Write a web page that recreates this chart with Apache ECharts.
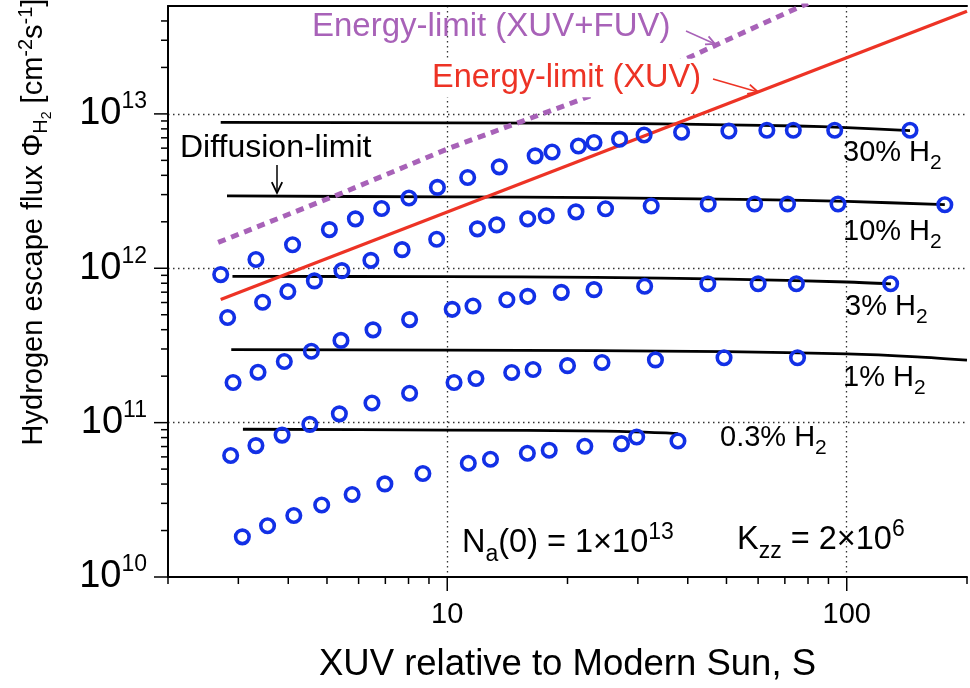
<!DOCTYPE html>
<html><head><meta charset="utf-8">
<script src="https://cdn.jsdelivr.net/npm/echarts@6/dist/echarts.min.js"></script>
<style>html,body{margin:0;padding:0;background:#fff}#c{width:970px;height:688px}</style>
</head><body><div id="c"></div>
<script>
// ---------------- data ----------------
const X_MIN = 2, X_MAX = 200;
const Y_MIN = 1e10, Y_MAX = 5e13;

// model results (blue circles)
const s30 = [2.71,3.32,4.10,5.07,5.89,6.85,8.02,9.45,11.25,13.5,16.6,18.3,21.3,23.3,27.0,31.1,38.6,50.7,63.1,73.5,93.3,144];
const f30 = [9.1e11,1.14e12,1.42e12,1.78e12,2.09e12,2.44e12,2.85e12,3.34e12,3.87e12,4.54e12,5.35e12,5.67e12,6.2e12,6.53e12,6.86e12,7.3e12,7.6e12,7.74e12,7.84e12,7.84e12,7.84e12,7.84e12];
const s10 = [2.82,3.45,3.99,4.65,5.45,6.44,7.71,9.41,11.9,13.3,15.9,17.7,21.0,24.9,32.4,45.0,58.8,71.1,95.1,176];
const f10 = [4.8e11,6.03e11,7.07e11,8.28e11,9.65e11,1.125e12,1.32e12,1.54e12,1.80e12,1.91e12,2.09e12,2.19e12,2.32e12,2.43e12,2.53e12,2.61e12,2.61e12,2.61e12,2.61e12,2.58e12];
const s3 = [2.91,3.36,3.91,4.57,5.42,6.52,8.05,10.29,11.6,14.1,15.9,19.3,23.3,31.2,44.9,60.0,74.8,128.8];
const f3 = [1.82e11,2.12e11,2.49e11,2.90e11,3.41e11,3.99e11,4.65e11,5.42e11,5.70e11,6.25e11,6.58e11,6.98e11,7.27e11,7.64e11,7.93e11,7.93e11,7.93e11,7.93e11];
const s1 = [2.87,3.32,3.86,4.53,5.37,6.48,8.05,10.4,11.8,14.5,16.4,20.0,24.4,33.2,49.3,75.3];
const f1 = [6.12e10,7.1e10,8.3e10,9.75e10,1.14e11,1.34e11,1.55e11,1.82e11,1.93e11,2.11e11,2.21e11,2.34e11,2.45e11,2.55e11,2.63e11,2.63e11];
const s03 = [3.07,3.55,4.13,4.85,5.78,6.98,8.69,11.29,12.83,15.87,18.0,22.1,27.3,29.8,37.8];
const f03 = [1.82e10,2.15e10,2.5e10,2.93e10,3.42e10,4.01e10,4.68e10,5.46e10,5.79e10,6.34e10,6.62e10,7.03e10,7.31e10,8.07e10,7.6e10];

// diffusion-limit curves (black)
const d30s = [2.71,10,30,50,75,100,144];
const d30f = [8.8e12,8.75e12,8.65e12,8.5e12,8.35e12,8.15e12,7.8e12];
const d10s = [2.81,10,23.5,60,100,176];
const d10f = [2.94e12,2.9e12,2.87e12,2.78e12,2.71e12,2.58e12];
const d3s = [2.9,10,23.5,50,100,129];
const d3f = [8.87e11,8.82e11,8.74e11,8.5e11,8.15e11,7.93e11];
const d1s = [2.88,10,23.5,50,100,150,200];
const d1f = [2.97e11,2.95e11,2.93e11,2.88e11,2.79e11,2.67e11,2.54e11];
const d03s = [3.08,10,25,37.8];
const d03f = [9.06e10,8.95e10,8.8e10,8.5e10];

// energy limits
const elxS = [2.71,200];
const elxF = [6.27e11,4.62e13];
const elfS = [2.67,5.45,10.2,20.2,37.9,71.5,80];
const elfF = [1.47e12,3.07e12,6.05e12,1.16e13,2.16e13,4.58e13,5.2e13];

// axis ticks
const xMajorTicks = [10,100];
const xMinorTicks = [2,3,4,5,6,7,8,9,20,30,40,50,60,70,80,90,200];
const yMajorTicks = [1e10,1e11,1e12,1e13];
const yMinorTicks = [];
[1e10,1e11,1e12].forEach(d => { for (let m = 2; m <= 9; m++) yMinorTicks.push(m*d); });
yMinorTicks.push(2e13,3e13,4e13);

// ---------------- styles ----------------
const FONT = '"Liberation Sans", Arial, Helvetica, sans-serif';
const BLUE = '#1230e6', RED = '#ED3325', PURPLE = '#A862B8';

const zip = (a, b) => a.map((v, i) => [v, b[i]]);

const chart = echarts.init(document.getElementById('c'), null, {renderer: 'canvas'});

function circles(s, f) {
  return {type: 'scatter', data: zip(s, f), symbol: 'circle', symbolSize: 13.5,
    itemStyle: {color: 'rgba(0,0,0,0)', borderColor: BLUE, borderWidth: 3.6, opacity: 1}, z: 5, silent: true};
}
function dline(s, f) {
  return {type: 'line', data: zip(s, f), showSymbol: false, symbol: 'none', smooth: 0.3,
    lineStyle: {color: '#000', width: 2.8}, z: 2, silent: true};
}

const tickData = [];
xMinorTicks.forEach(v => tickData.push([v, Y_MIN, 0]));
xMajorTicks.forEach(v => tickData.push([v, Y_MIN, 1]));
yMinorTicks.forEach(v => tickData.push([X_MIN, v, 2]));
yMajorTicks.forEach(v => tickData.push([X_MIN, v, 3]));

const sub = (fs, pad) => ({fontSize: fs, lineHeight: fs, fontFamily: FONT, padding: [pad, 0, 0, 0]});
const sup = (fs, pad) => ({fontSize: fs, lineHeight: fs, fontFamily: FONT, padding: [0, 0, pad, 0]});

function txt(text, x, y, size, color) {
  return {
    type: 'text', x: x, y: y, silent: true, z: 50,
    style: {
      text: text, fill: color, fontSize: size, fontFamily: FONT, lineHeight: size,
      align: 'left', verticalAlign: 'middle', textAlign: 'left', textVerticalAlign: 'middle',
      rich: {
        sb: sub(Math.round(size * 0.72), Math.round(size * 0.72)),
        sp: sup(Math.round(size * 0.72), Math.round(size * 0.6))
      }
    }
  };
}
function arrow(x1, y1, x2, y2, color, w, head) {
  const a = Math.atan2(y2 - y1, x2 - x1);
  const h = head, sp = 0.45;
  return {type: 'group', silent: true, z: 50, children: [
    {type: 'line', shape: {x1: x1, y1: y1, x2: x2, y2: y2}, style: {stroke: color, lineWidth: w}},
    {type: 'polyline', shape: {points: [
      [x2 - h * Math.cos(a - sp), y2 - h * Math.sin(a - sp)], [x2, y2],
      [x2 - h * Math.cos(a + sp), y2 - h * Math.sin(a + sp)]]},
      style: {stroke: color, lineWidth: w + 0.3, fill: null}}
  ]};
}

const redLabel = txt('Energy-limit (XUV)', 430, 78, 32.5, RED);
redLabel.style.backgroundColor = '#fff';
redLabel.style.padding = [3, 2, 3, 2];

const option = {
  animation: false,
  backgroundColor: '#fff',
  grid: {left: 168, top: 6, right: -6, bottom: 111, containLabel: false},
  xAxis: [{
    type: 'log', logBase: 10, min: X_MIN, max: X_MAX, splitNumber: 2,
    axisLine: {onZero: false, lineStyle: {color: '#000', width: 2}},
    axisTick: {show: false},
    axisLabel: {
      margin: 23, color: '#000', fontSize: 29, fontFamily: FONT,
      formatter: v => { const e = Math.log10(v); return (Math.abs(e - Math.round(e)) < 1e-6 && Math.round(e) >= 1) ? String(Math.round(Math.pow(10, Math.round(e)))) : ''; }
    },
    splitLine: {show: true, showMinLine: false, showMaxLine: false, lineStyle: {color: '#333', width: 1.3, type: [1.5, 3.5]}},
    name: 'XUV relative to Modern Sun, S', nameLocation: 'middle', nameGap: 69,
    nameTextStyle: {color: '#000', fontSize: 36.5, fontFamily: FONT}
  }, {
    type: 'log', logBase: 10, min: X_MIN, max: X_MAX, position: 'top',
    axisLine: {onZero: false, lineStyle: {color: '#000', width: 2}},
    axisTick: {show: false}, axisLabel: {show: false}, splitLine: {show: false}
  }],
  yAxis: [{
    type: 'log', logBase: 10, min: Y_MIN, max: Y_MAX, splitNumber: 4,
    axisLine: {onZero: false, lineStyle: {color: '#000', width: 2}},
    axisTick: {show: false},
    axisLabel: {
      margin: 21, color: '#000', fontSize: 38, lineHeight: 38, fontFamily: FONT,
      showMaxLabel: false,
      formatter: v => { const e = Math.log10(v); if (Math.abs(e - Math.round(e)) > 1e-6) return ''; return '10{sp|' + Math.round(e) + '}'; },
      rich: {sp: {fontSize: 23, lineHeight: 23, fontFamily: FONT, padding: [0, 0, 24, 0], color: '#000'}}
    },
    splitLine: {show: true, showMinLine: false, showMaxLine: false, lineStyle: {color: '#333', width: 1.3, type: [1.5, 3.5]}}
  }],
  series: [
    dline(d30s, d30f), dline(d10s, d10f), dline(d3s, d3f), dline(d1s, d1f), dline(d03s, d03f),
    {type: 'line', data: zip(elfS, elfF), showSymbol: false, symbol: 'none', z: 3, silent: true,
      lineStyle: {color: PURPLE, width: 5, type: [8, 6], cap: 'butt'}},
    {type: 'line', data: zip(elxS, elxF), showSymbol: false, symbol: 'none', z: 4, silent: true,
      lineStyle: {color: RED, width: 3.3}},
    circles(s30, f30), circles(s10, f10), circles(s3, f3), circles(s1, f1), circles(s03, f03),
    {type: 'custom', data: tickData, encode: {x: 0, y: 1}, clip: false, silent: true, z: 20,
      renderItem: function (params, api) {
        const p = api.coord([api.value(0), api.value(1)]);
        const k = api.value(2);
        const len = (k === 1 || k === 3) ? 14 : 7;
        const shape = k < 2 ? {x1: p[0], y1: p[1], x2: p[0], y2: p[1] + len}
                            : {x1: p[0] - len, y1: p[1], x2: p[0], y2: p[1]};
        return {type: 'line', shape: shape, style: {stroke: '#000', lineWidth: 1.5}};
      }}
  ],
  graphic: [
    txt('Energy-limit (XUV+FUV)', 312, 27, 33, PURPLE),
    redLabel,
    txt('Diffusion-limit', 180, 148, 32, '#000'),
    txt('30% H{sb|2}', 843, 153, 29, '#000'),
    txt('10% H{sb|2}', 843, 232, 29, '#000'),
    txt('3% H{sb|2}', 845, 307, 29, '#000'),
    txt('1% H{sb|2}', 843, 378, 29, '#000'),
    txt('0.3% H{sb|2}', 720, 438, 29, '#000'),
    txt('N{sb|a}(0) = 1×10{sp|13}', 462, 543, 32.5, '#000'),
    txt('K{sb|zz} = 2×10{sp|6}', 737, 540, 32.5, '#000'),
    arrow(277, 165, 277, 193, '#000', 1.5, 12),
    arrow(686, 31, 715, 44, PURPLE, 1.5, 10),
    arrow(713, 79, 758, 92, RED, 1.5, 11),
    {type: 'text', x: 34, y: 222, rotation: Math.PI / 2, silent: true, z: 50,
      style: {text: 'Hydrogen escape flux Φ{s1|H}{s2|2} [cm{p|-2}s{p|-1}]', fill: '#000',
        fontSize: 29, lineHeight: 29, fontFamily: FONT,
        align: 'center', verticalAlign: 'middle', textAlign: 'center', textVerticalAlign: 'middle',
        rich: {
          s1: {fontSize: 20, lineHeight: 20, fontFamily: FONT, padding: [14, 0, 0, 0]},
          s2: {fontSize: 14, lineHeight: 14, fontFamily: FONT, padding: [26, 0, 0, 0]},
          p: {fontSize: 20, lineHeight: 20, fontFamily: FONT, padding: [0, 0, 16, 0]}
        }}}
  ]
};
chart.setOption(option);
</script></body></html>
